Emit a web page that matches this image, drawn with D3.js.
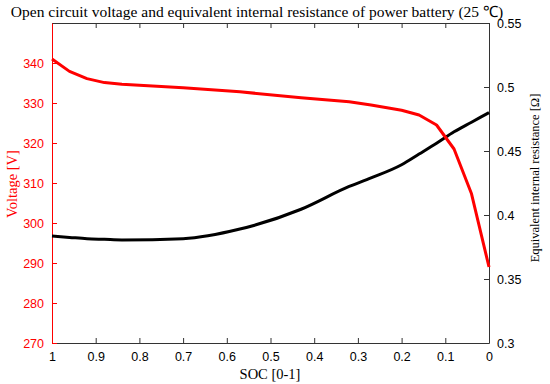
<!DOCTYPE html>
<html>
<head>
<meta charset="utf-8">
<script src="https://cdn.jsdelivr.net/npm/d3@7"></script>
<style>
  body { margin: 0; background: #fff; }
  svg { display: block; }
</style>
</head>
<body>
<script>
// SOC points and the two curves
var soc = [1, 0.96, 0.92, 0.88, 0.84, 0.7, 0.57, 0.43, 0.32, 0.27, 0.2, 0.16, 0.12, 0.08, 0.04, 0];
var voltage = [341, 337.9, 336.1, 335.1, 334.7, 333.8, 332.8, 331.3, 330.3, 329.5, 328.2, 327.0, 324.5, 318.5, 307.3, 289];
var resistance = [0.3835, 0.3825, 0.3815, 0.381, 0.3805, 0.3815, 0.389, 0.4045, 0.4223, 0.429, 0.4393, 0.4476, 0.456, 0.465, 0.4725, 0.480];

var xTicks = [1, 0.9, 0.8, 0.7, 0.6, 0.5, 0.4, 0.3, 0.2, 0.1, 0];
var vTicks = [270, 280, 290, 300, 310, 320, 330, 340];
var rTicks = [0.3, 0.35, 0.4, 0.45, 0.5, 0.55];

var width = 550, height = 384;
var margin = { top: 23, right: 61, bottom: 41, left: 52 };
var red = "#ff0000";

var svg = d3.select("body").append("svg")
    .attr("width", width)
    .attr("height", height);

var x = d3.scaleLinear().domain([1, 0]).range([margin.left, width - margin.right]);
var yV = d3.scaleLinear().domain([270, 350]).range([height - margin.bottom, margin.top]);
var yR = d3.scaleLinear().domain([0.3, 0.55]).range([height - margin.bottom, margin.top]);

var tickFont = "'Liberation Sans', Arial, sans-serif";
var serif = "'Liberation Serif', 'Times New Roman', serif";

// bottom axis
svg.append("g")
    .attr("transform", `translate(0,${height - margin.bottom})`)
    .call(d3.axisBottom(x).tickValues(xTicks).tickSizeInner(-5).tickSizeOuter(0).tickPadding(9).tickFormat(d3.format("")))
    .call(g => g.selectAll("line, path").attr("stroke", "#333"))
    .call(g => g.selectAll("text").attr("font-family", tickFont).attr("font-size", 12.5).attr("fill", "#000"));

// top axis (box)
svg.append("g")
    .attr("transform", `translate(0,${margin.top})`)
    .call(d3.axisTop(x).tickValues(xTicks).tickSizeInner(-5).tickSizeOuter(0).tickFormat(""))
    .call(g => g.selectAll("line, path").attr("stroke", "#333"));

// right axis
svg.append("g")
    .attr("transform", `translate(${width - margin.right},0)`)
    .call(d3.axisRight(yR).tickValues(rTicks).tickSizeInner(-5).tickSizeOuter(0).tickPadding(8).tickFormat(d3.format("")))
    .call(g => g.selectAll("line, path").attr("stroke", "#333"))
    .call(g => g.selectAll("text").attr("font-family", tickFont).attr("font-size", 12.5).attr("fill", "#000"));

// left axis (red)
svg.append("g")
    .attr("transform", `translate(${margin.left},0)`)
    .call(d3.axisLeft(yV).tickValues(vTicks).tickSizeInner(-5).tickSizeOuter(0).tickPadding(8))
    .call(g => g.selectAll("line, path").attr("stroke", red))
    .call(g => g.selectAll("text").attr("font-family", tickFont).attr("font-size", 12.5).attr("fill", red));

// curves
var lineV = d3.line().x((d, i) => x(soc[i])).y(d => yV(d));
var lineR = d3.line().x((d, i) => x(soc[i])).y(d => yR(d)).curve(d3.curveMonotoneX);

svg.append("path")
    .datum(resistance)
    .attr("d", lineR)
    .attr("fill", "none")
    .attr("stroke", "#000")
    .attr("stroke-width", 3);

svg.append("path")
    .datum(voltage)
    .attr("d", lineV)
    .attr("fill", "none")
    .attr("stroke", red)
    .attr("stroke-width", 3)
    .attr("stroke-linejoin", "round");

// texts
svg.append("text")
    .attr("x", 257).attr("y", 17)
    .attr("text-anchor", "middle")
    .attr("font-family", serif).attr("font-size", 15.5)
    .text("Open circuit voltage and equivalent internal resistance of power battery (25 \u2103)");

svg.append("text")
    .attr("x", 270).attr("y", 379)
    .attr("text-anchor", "middle")
    .attr("font-family", serif).attr("font-size", 14.5)
    .text("SOC [0-1]");

svg.append("text")
    .attr("transform", `translate(17,184) rotate(-90)`)
    .attr("text-anchor", "middle")
    .attr("font-family", serif).attr("font-size", 14.5)
    .attr("fill", red)
    .text("Voltage [V]");

svg.append("text")
    .attr("transform", `translate(539,178) rotate(-90)`)
    .attr("text-anchor", "middle")
    .attr("font-family", serif).attr("font-size", 12.5)
    .text("Equivalent internal resistance [\u03a9]");
</script>
</body>
</html>
